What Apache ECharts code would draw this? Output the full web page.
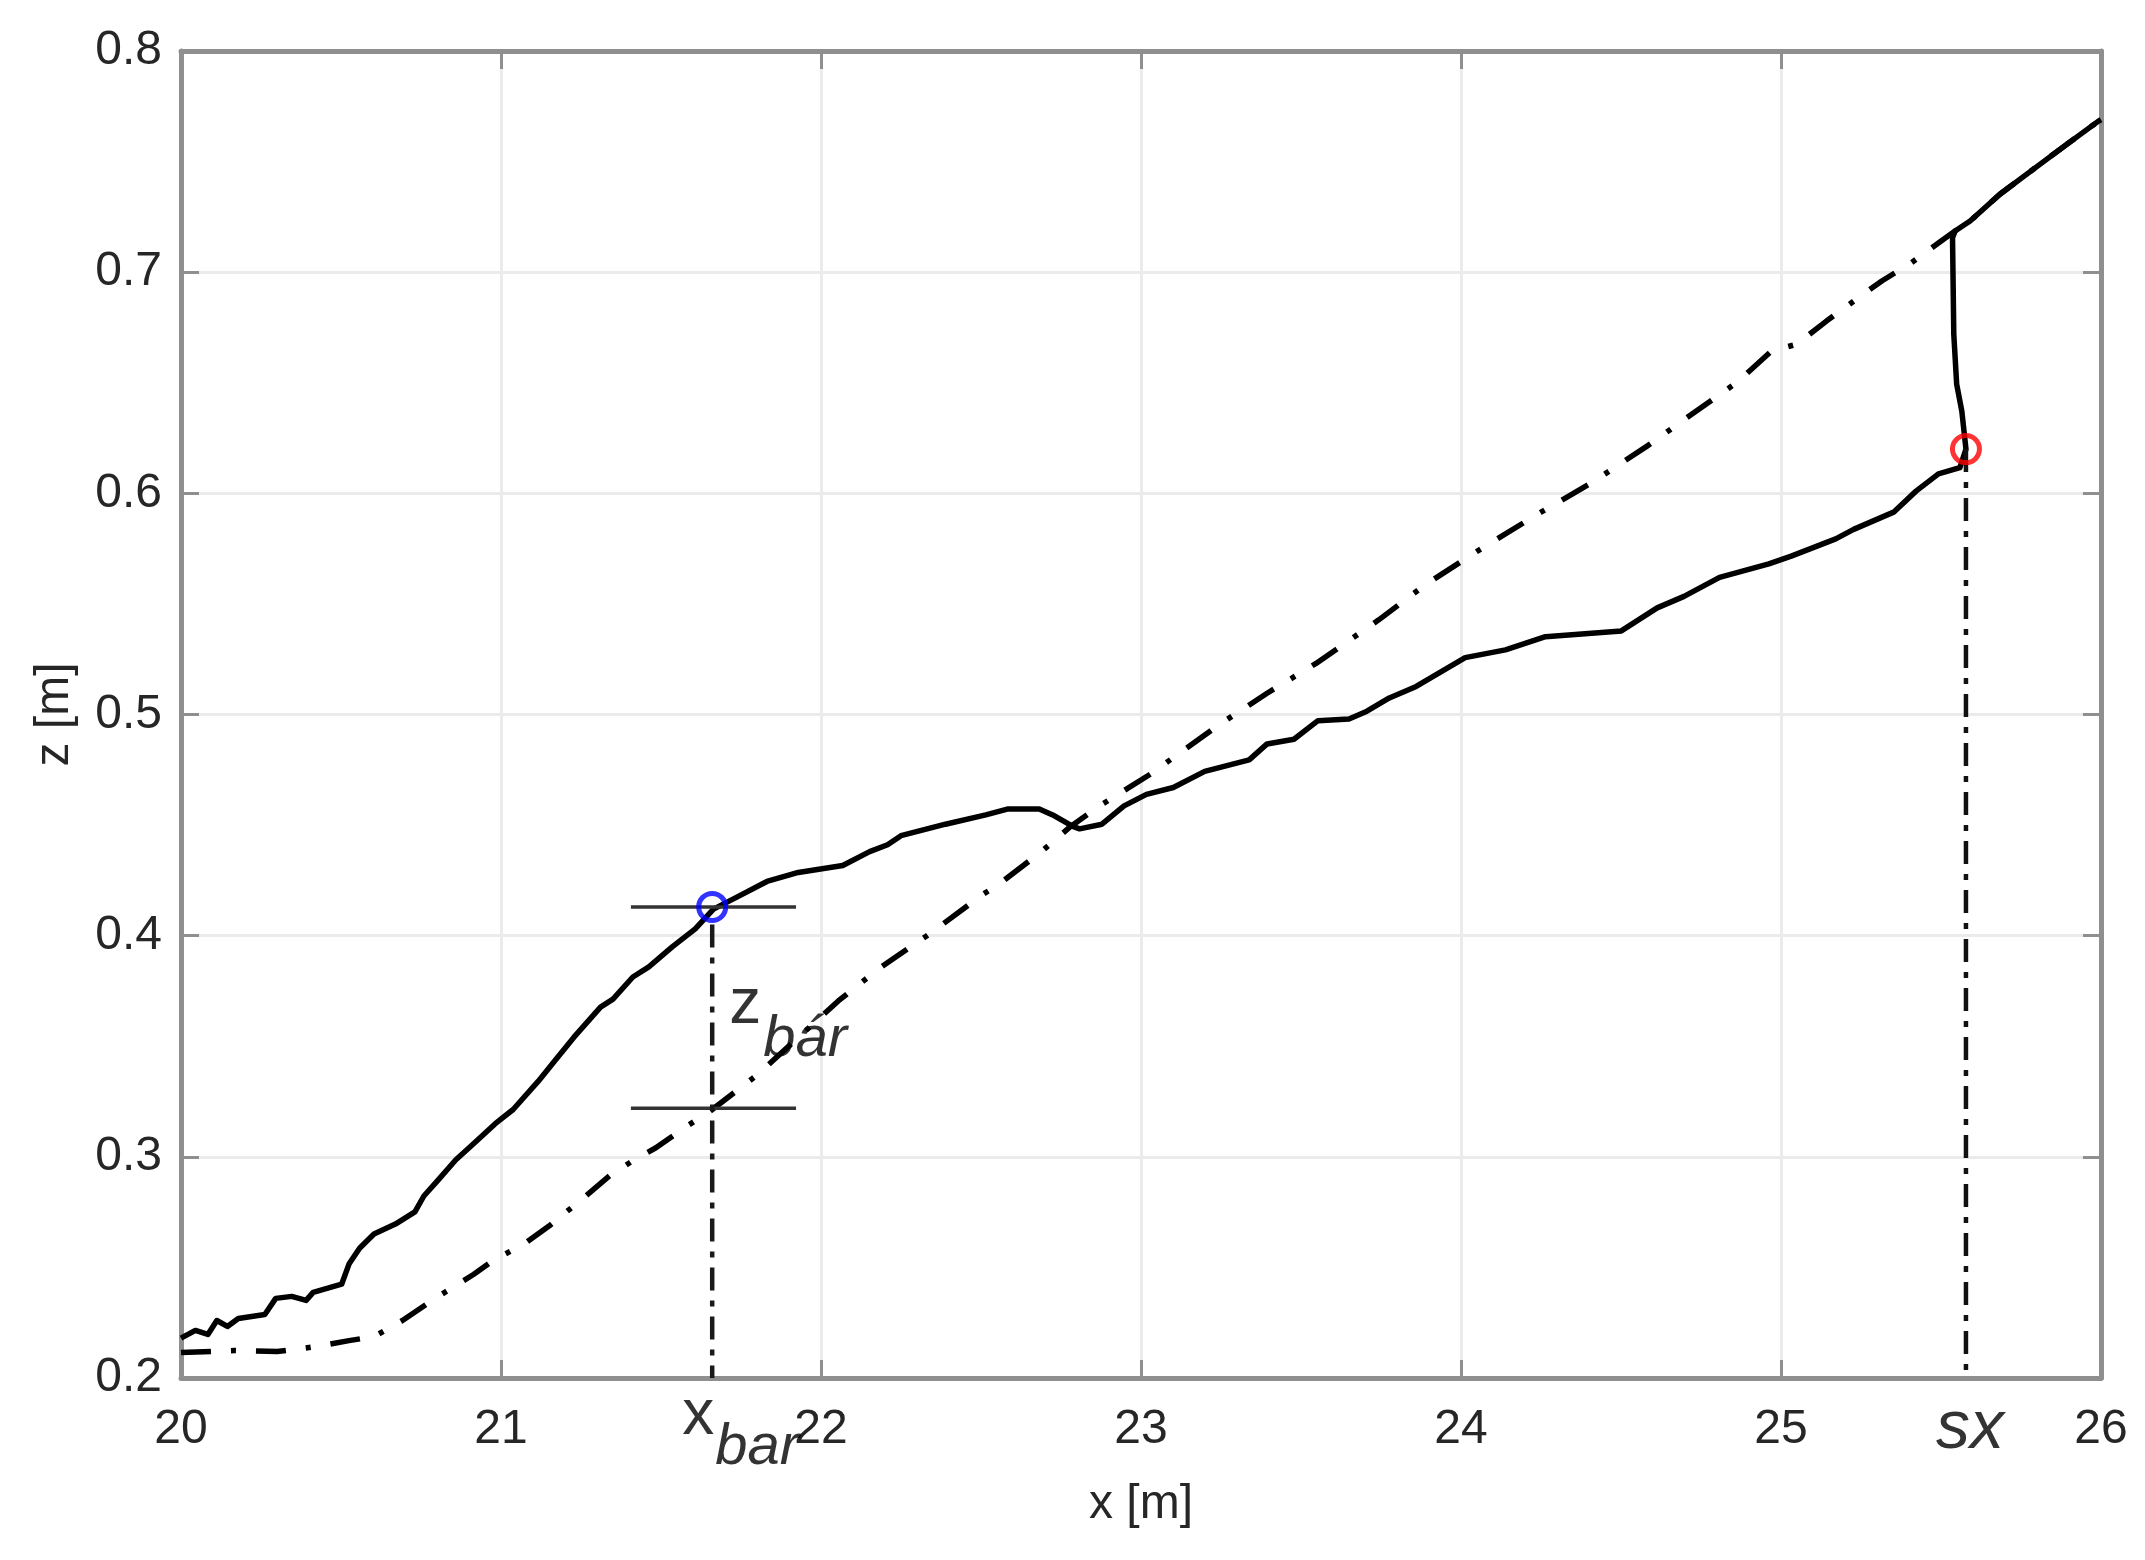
<!DOCTYPE html>
<html>
<head>
<meta charset="utf-8">
<script src="https://cdn.jsdelivr.net/npm/echarts@6/dist/echarts.min.js"></script>
<style>
html,body{margin:0;padding:0;background:#fff;}
#chart{width:2145px;height:1560px;}
</style>
</head>
<body>
<div id="chart"></div>
<script>
// ---- data ----
const xTicks = [20, 21, 22, 23, 24, 25, 26];
const zTicks = [0.2, 0.3, 0.4, 0.5, 0.6, 0.7, 0.8];

// post-event profile (solid)
const solidX = [20.000,20.045,20.084,20.112,20.145,20.179,20.262,20.296,20.346,20.391,20.413,20.502,20.525,20.558,20.603,20.670,20.731,20.759,20.804,20.859,20.915,20.982,21.038,21.116,21.172,21.228,21.311,21.350,21.412,21.462,21.535,21.607,21.664,21.734,21.831,21.929,22.068,22.152,22.208,22.250,22.389,22.515,22.585,22.682,22.724,22.787,22.808,22.878,22.947,23.017,23.101,23.199,23.338,23.394,23.478,23.553,23.650,23.706,23.776,23.860,24.013,24.139,24.264,24.501,24.613,24.697,24.808,24.962,25.032,25.171,25.227,25.352,25.422,25.492,25.559,25.578,25.565,25.549,25.540,25.536,25.544,25.591,25.684,25.788,25.893,25.992,26.000];
const solidZ = [0.218,0.2215,0.2197,0.226,0.2233,0.2269,0.2287,0.236,0.2369,0.2351,0.2387,0.2424,0.2515,0.2587,0.2651,0.2696,0.2751,0.2823,0.2896,0.2987,0.306,0.315,0.3214,0.3341,0.3441,0.3541,0.3677,0.3713,0.3813,0.3859,0.3949,0.4031,0.412,0.4172,0.4245,0.4286,0.4317,0.438,0.4411,0.4452,0.4504,0.4546,0.4573,0.4573,0.4546,0.4494,0.4483,0.4504,0.4587,0.4639,0.467,0.4743,0.4795,0.4867,0.4888,0.4972,0.498,0.5015,0.5075,0.5127,0.5257,0.5292,0.5352,0.5378,0.5482,0.5534,0.562,0.5681,0.5716,0.5794,0.5837,0.5915,0.601,0.6088,0.6116,0.620,0.6372,0.6493,0.6719,0.7156,0.7186,0.7231,0.7352,0.7465,0.7578,0.7683,0.769];

// initial profile (dash-dot)
const dashedX = [20.000,20.167,20.301,20.424,20.525,20.603,20.692,20.804,20.915,20.977,21.071,21.150,21.250,21.339,21.417,21.484,21.574,21.652,21.803,22.054,22.180,22.347,22.501,22.557,22.689,22.780,22.871,23.031,23.240,23.394,23.547,23.743,23.888,24.055,24.250,24.404,24.585,24.711,24.861,24.971,25.049,25.143,25.257,25.315,25.408,25.507,25.544,25.591,25.684,25.788,25.893,25.992,26.000];
const dashedZ = [0.2115,0.2124,0.212,0.2142,0.2169,0.2187,0.226,0.2369,0.2469,0.2533,0.2605,0.2687,0.2805,0.2914,0.2987,0.3041,0.3132,0.3205,0.3373,0.3705,0.385,0.4016,0.4182,0.4234,0.438,0.4494,0.4587,0.4732,0.495,0.5096,0.5231,0.5428,0.5586,0.5742,0.5915,0.6044,0.6217,0.6347,0.65,0.6644,0.6674,0.678,0.69,0.696,0.7043,0.7148,0.7186,0.7231,0.7352,0.7465,0.7578,0.7683,0.769];

// bar and shoreline markers
const xBar = 21.66;
const zBarTop = 0.413;
const zBarBottom = 0.322;
const barLineX = [21.406, 21.922];
const sxX = 25.578;
const sxZ = 0.620;
const zBase = 0.2;

// labels
const xBarLabel = ['x', 'bar'];
const zBarLabel = ['z', 'bár'];
const sxLabel = 'sx';
const xName = 'x [m]';
const zName = 'z [m]';

// ---- chart ----
const FONT = '"Liberation Sans", Arial, Helvetica, sans-serif';
const AX = '#8f8f8f';
const TXT = '#262626';

const solid = solidX.map((x, i) => [x, solidZ[i]]);
const dashed = dashedX.map((x, i) => [x, dashedZ[i]]);

function axisCommon(extra) {
  return Object.assign({
    type: 'value',
    axisLine: { show: true, onZero: false, lineStyle: { color: AX, width: 5 } },
    axisTick: { show: true, inside: true, length: 18, lineStyle: { color: AX, width: 3 } },
    splitLine: { show: false },
    axisLabel: { show: false }
  }, extra);
}

const chart = echarts.init(document.getElementById('chart'), null, { renderer: 'canvas' });

const ann = (x, z, text, dx, dy, size, italic) => ({
  value: [x, z],
  label: {
    show: true, formatter: text, position: 'inside', offset: [dx, dy],
    fontSize: size, fontStyle: italic ? 'italic' : 'normal', color: '#000', fontFamily: FONT
  }
});

chart.setOption({
  animation: false,
  backgroundColor: '#fff',
  grid: { left: 181, top: 51, right: 44, bottom: 182, containLabel: false },
  xAxis: [
    axisCommon({
      min: xTicks[0], max: xTicks[xTicks.length - 1], interval: 1, position: 'bottom',
      axisLabel: { show: true, fontSize: 48, color: TXT, margin: 28, fontFamily: FONT },
      splitLine: { show: true, lineStyle: { color: '#ebebeb', width: 3 } },
      name: xName, nameLocation: 'middle', nameGap: 103,
      nameTextStyle: { fontSize: 48, color: TXT, fontFamily: FONT }
    }),
    axisCommon({ min: xTicks[0], max: xTicks[xTicks.length - 1], interval: 1, position: 'top' })
  ],
  yAxis: [
    axisCommon({
      min: zTicks[0], max: zTicks[zTicks.length - 1], interval: 0.1, position: 'left',
      axisLabel: { show: true, fontSize: 48, color: TXT, margin: 19, fontFamily: FONT,
        formatter: v => v.toFixed(1) },
      splitLine: { show: true, lineStyle: { color: '#ebebeb', width: 3 } },
      name: zName, nameLocation: 'middle', nameGap: 102, nameRotate: 90,
      nameTextStyle: { fontSize: 48, color: TXT, fontFamily: FONT }
    }),
    axisCommon({ min: zTicks[0], max: zTicks[zTicks.length - 1], interval: 0.1, position: 'right' })
  ],
  series: [
    {
      name: 'initial', type: 'line', data: dashed, symbol: 'none', z: 3,
      lineStyle: { color: '#000', width: 5.5, type: [30, 20, 5, 20] }
    },
    {
      name: 'final', type: 'line', data: solid, symbol: 'none', z: 4,
      lineStyle: { color: '#000', width: 5.5, join: 'round' }
    },
    {
      name: 'barTop', type: 'line', data: [[barLineX[0], zBarTop], [barLineX[1], zBarTop]], symbol: 'none', z: 5,
      lineStyle: { color: '#333', width: 3.5 }
    },
    {
      name: 'barBottom', type: 'line', data: [[barLineX[0], zBarBottom], [barLineX[1], zBarBottom]], symbol: 'none', z: 5,
      lineStyle: { color: '#333', width: 3.5 }
    },
    {
      name: 'xbarLine', type: 'line', data: [[xBar, zBarTop - 0.008], [xBar, zBase]], symbol: 'none', z: 5,
      lineStyle: { color: '#1a1a1a', width: 4.5, type: [23, 10, 6, 10] }
    },
    {
      name: 'sxLine', type: 'line', data: [[sxX, sxZ], [sxX, zBase]], symbol: 'none', z: 5,
      lineStyle: { color: '#111', width: 4.5, type: [23, 10, 6, 10] }
    },
    {
      name: 'barPoint', type: 'scatter', data: [[xBar, zBarTop]], symbol: 'circle', symbolSize: 27, z: 6,
      itemStyle: { color: 'rgba(0,0,0,0)', borderColor: '#0000ff', borderWidth: 5 }
    },
    {
      name: 'sxPoint', type: 'scatter', data: [[sxX, sxZ]], symbol: 'circle', symbolSize: 27, z: 6,
      itemStyle: { color: 'rgba(0,0,0,0)', borderColor: '#ff0000', borderWidth: 5 }
    },
    {
      name: 'labels', type: 'scatter', symbolSize: 0, z: 7, silent: true,
      data: [
        ann(xBar, zBase, xBarLabel[0], -14, 38, 64, false),
        ann(xBar, zBase, xBarLabel[1], 45, 70, 58, true),
        ann(xBar, zBarTop, zBarLabel[0], 33, 98, 64, false),
        ann(xBar, zBarTop, zBarLabel[1], 93, 133, 58, true),
        ann(sxX, zBase, sxLabel, 4, 51, 68, true)
      ]
    }
  ]
});
</script>
</body>
</html>
